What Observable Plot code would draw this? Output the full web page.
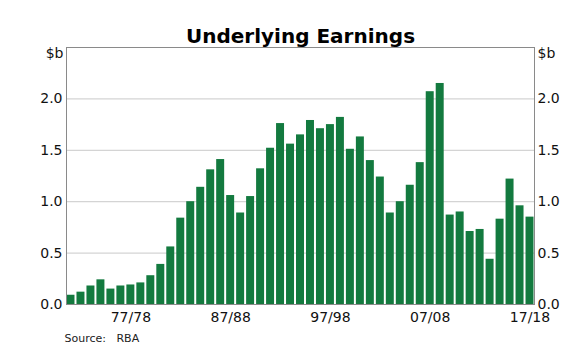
<!DOCTYPE html>
<html>
<head>
<meta charset="utf-8">
<script src="https://cdn.jsdelivr.net/npm/d3@7"></script>
<script src="https://cdn.jsdelivr.net/npm/@observablehq/plot@0.6"></script>
<style>
  html, body { margin: 0; padding: 0; background: #fff; }
  #chart { width: 580px; height: 352px; }
  svg { font-family: "DejaVu Sans", sans-serif; }
</style>
</head>
<body>
<div id="chart"></div>
<script>
const years = ["71/72","72/73","73/74","74/75","75/76","76/77","77/78","78/79","79/80","80/81",
  "81/82","82/83","83/84","84/85","85/86","86/87","87/88","88/89","89/90","90/91",
  "91/92","92/93","93/94","94/95","95/96","96/97","97/98","98/99","99/00","00/01",
  "01/02","02/03","03/04","04/05","05/06","06/07","07/08","08/09","09/10","10/11",
  "11/12","12/13","13/14","14/15","15/16","16/17","17/18"];
const earnings = [0.09,0.12,0.18,0.24,0.15,0.18,0.19,0.21,0.28,0.39,
  0.56,0.84,1.00,1.14,1.31,1.41,1.06,0.89,1.05,1.32,
  1.52,1.76,1.56,1.65,1.79,1.71,1.75,1.82,1.51,1.63,
  1.40,1.24,0.89,1.00,1.16,1.38,2.07,2.15,0.87,0.90,
  0.71,0.73,0.44,0.83,1.22,0.96,0.85];
const xTicks = ["77/78","87/88","97/98","07/08","17/18"];
const yTicks = [0, 0.5, 1.0, 1.5, 2.0];
const title = "Underlying Earnings";
const unit = "$b";
const source = "Source:   RBA";

const data = years.map((y, i) => ({year: y, value: earnings[i]}));

const chart = Plot.plot({
  width: 580,
  height: 352,
  marginLeft: 66,
  marginRight: 46,
  marginTop: 47,
  marginBottom: 48,
  style: {fontFamily: "DejaVu Sans, sans-serif", background: "#fff", overflow: "visible"},
  x: {domain: years, paddingInner: 0.2, paddingOuter: 0.05},
  y: {domain: [0, 2.5]},
  marks: [
    Plot.gridY(yTicks.filter(d => d > 0), {stroke: "#d4d4d4", strokeOpacity: 1, strokeWidth: 1.2}),
    Plot.barY(data, {x: "year", y: "value", fill: "#137a3f"}),
    Plot.frame({stroke: "#8a8a8a", strokeWidth: 1}),
    Plot.axisY(yTicks, {anchor: "left", tickSize: 0, tickPadding: 4, tickFormat: d3.format(".1f"), label: null, fontSize: 14, fill: "#111"}),
    Plot.axisY(yTicks, {anchor: "right", tickSize: 0, tickPadding: 3, tickFormat: d3.format(".1f"), label: null, fontSize: 14, fill: "#111"}),
    Plot.axisX(xTicks, {anchor: "bottom", tickSize: 0, tickPadding: 8, label: null, fontSize: 14, fill: "#111"}),
    Plot.text([unit], {frameAnchor: "top-left", lineAnchor: "middle", textAnchor: "end", dx: -3, dy: 6, fontSize: 14, fill: "#111"}),
    Plot.text([unit], {frameAnchor: "top-right", lineAnchor: "middle", textAnchor: "start", dx: 3, dy: 6, fontSize: 14, fill: "#111"}),
    Plot.text([title], {frameAnchor: "top", lineAnchor: "middle", dy: -11, fontSize: 20, fontWeight: "bold", fill: "#000"}),
    Plot.text([source], {frameAnchor: "bottom-left", lineAnchor: "middle", textAnchor: "start", dx: -2, dy: 34, fontSize: 11, fill: "#222"})
  ]
});
document.getElementById("chart").appendChild(chart);
</script>
</body>
</html>
